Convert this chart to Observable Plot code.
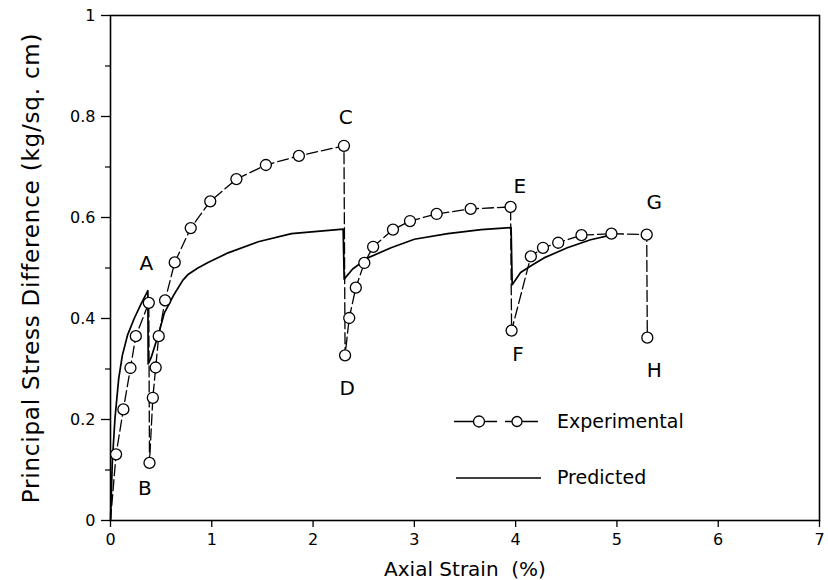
<!DOCTYPE html>
<html>
<head>
<meta charset="utf-8">
<script src="https://cdn.jsdelivr.net/npm/d3@7"></script>
<script src="https://cdn.jsdelivr.net/npm/@observablehq/plot@0.6"></script>
<style>
  body { margin: 0; background: #fff; }
  #wrap { position: relative; width: 828px; height: 580px; }
  #wrap svg [aria-label="x-axis label"] { font-size: 20px; }
  #wrap svg [aria-label="y-axis label"] { font-size: 23px; letter-spacing: 0.8px; }
  #legend { position: absolute; left: 0; top: 0; pointer-events: none; }
</style>
</head>
<body>
<div id="wrap"></div>
<script>
// ---- data ----
const expX = [0.055,0.127,0.197,0.25,0.378,0.385,0.418,0.446,0.476,0.539,0.634,0.792,0.985,1.243,1.534,1.86,2.305,2.316,2.357,2.422,2.506,2.593,2.789,2.957,3.22,3.556,3.95,3.96,4.15,4.27,4.42,4.65,4.946,5.294,5.30];
const expY = [0.131,0.22,0.302,0.365,0.431,0.114,0.243,0.303,0.365,0.436,0.511,0.579,0.632,0.676,0.704,0.722,0.742,0.327,0.401,0.461,0.51,0.542,0.576,0.593,0.607,0.617,0.621,0.376,0.523,0.54,0.55,0.565,0.568,0.566,0.362];

const predX = [0,0.018,0.044,0.081,0.117,0.168,0.234,0.302,0.369,
  0.372,0.40,0.429,0.48,0.53,0.62,0.715,0.765,0.863,0.963,1.161,1.458,1.787,2.297,
  2.307,2.391,2.54,2.77,3.0,3.33,3.66,3.955,
  3.966,4.049,4.148,4.28,4.51,4.74,4.94];
const predY = [0,0.116,0.202,0.281,0.327,0.367,0.40,0.429,0.455,
  0.31,0.322,0.34,0.373,0.41,0.445,0.476,0.487,0.50,0.511,0.530,0.552,0.568,0.577,
  0.478,0.498,0.52,0.54,0.557,0.568,0.576,0.58,
  0.467,0.491,0.504,0.52,0.54,0.556,0.565];

const labelText = ["A","B","C","D","E","F","G","H"];
const labelX = [0.355,0.34,2.323,2.336,4.04,4.024,5.369,5.369];
const labelY = [0.508,0.063,0.798,0.262,0.662,0.329,0.630,0.296];

const xTicks = [0,1,2,3,4,5,6,7];
const yTicks = [0,0.2,0.4,0.6,0.8,1];
const yMinorTicks = [0.1,0.3,0.5,0.7,0.9];

const xLabel = "Axial Strain\u00a0 (%)";
const yLabel = "Principal Stress Difference (kg/sq. cm)";
const legendNames = ["Experimental","Predicted"];

// ---- tables ----
const experimental = expX.map((x,i) => ({x, y: expY[i]}));
const expLine = [{x:0, y:0}, ...experimental];
const predicted = predX.map((x,i) => ({x, y: predY[i]}));
const labels = labelText.map((t,i) => ({t, x: labelX[i], y: labelY[i]}));

const chart = Plot.plot({
  width: 828,
  height: 580,
  marginLeft: 110,
  marginRight: 9,
  marginTop: 15,
  marginBottom: 60,
  style: {fontFamily: "DejaVu Sans, sans-serif", fontSize: "16px", background: "#fff", color: "#000"},
  x: {domain: [0,7]},
  y: {domain: [0,1]},
  marks: [
    Plot.frame({stroke: "#000", strokeWidth: 1.6}),
    Plot.axisX({ticks: xTicks, tickSize: 7, tickPadding: 6, tickFormat: d => String(d),
      label: xLabel, labelAnchor: "center", labelOffset: 55, labelArrow: "none", strokeWidth: 1.3}),
    Plot.axisY({ticks: yTicks, tickSize: 9, tickPadding: 6, tickFormat: d => String(d),
      label: yLabel, labelAnchor: "center", labelOffset: 88, labelArrow: "none", strokeWidth: 1.3}),
    Plot.axisY({ticks: yMinorTicks, tickSize: 5, tickFormat: () => "", label: null, strokeWidth: 1.2}),
    Plot.line(predicted, {x: "x", y: "y", stroke: "#000", strokeWidth: 1.7, curve: "linear"}),
    Plot.line(expLine, {x: "x", y: "y", stroke: "#000", strokeWidth: 1.3, strokeDasharray: "11,4"}),
    Plot.dot(experimental, {x: "x", y: "y", r: 5.5, fill: "#fff", stroke: "#000", strokeWidth: 1.3}),
    Plot.text(labels, {x: "x", y: "y", text: "t", fontSize: 20, textAnchor: "middle", lineAnchor: "middle", fill: "#000"})
  ]
});
const wrap = document.getElementById("wrap");
wrap.appendChild(chart);

// ---- legend overlay (inside the plot area, as in the reference) ----
const NS = "http://www.w3.org/2000/svg";
const lg = document.createElementNS(NS, "svg");
lg.setAttribute("id", "legend");
lg.setAttribute("width", 828);
lg.setAttribute("height", 580);
lg.innerHTML = `
  <g stroke="#000" fill="none" stroke-width="1.3">
    <line x1="454" y1="421.5" x2="497" y2="421.5"/>
    <line x1="505" y1="421.5" x2="538" y2="421.5"/>
    <circle cx="479" cy="421.5" r="5.5" fill="#fff"/>
    <circle cx="517" cy="421.5" r="5" fill="#fff"/>
    <line x1="456" y1="478" x2="541" y2="478" stroke-width="1.5"/>
  </g>
  <g font-family="DejaVu Sans, sans-serif" font-size="19" fill="#000">
    <text x="557" y="428">${legendNames[0]}</text>
    <text x="557" y="484">${legendNames[1]}</text>
  </g>`;
wrap.appendChild(lg);
</script>
</body>
</html>
